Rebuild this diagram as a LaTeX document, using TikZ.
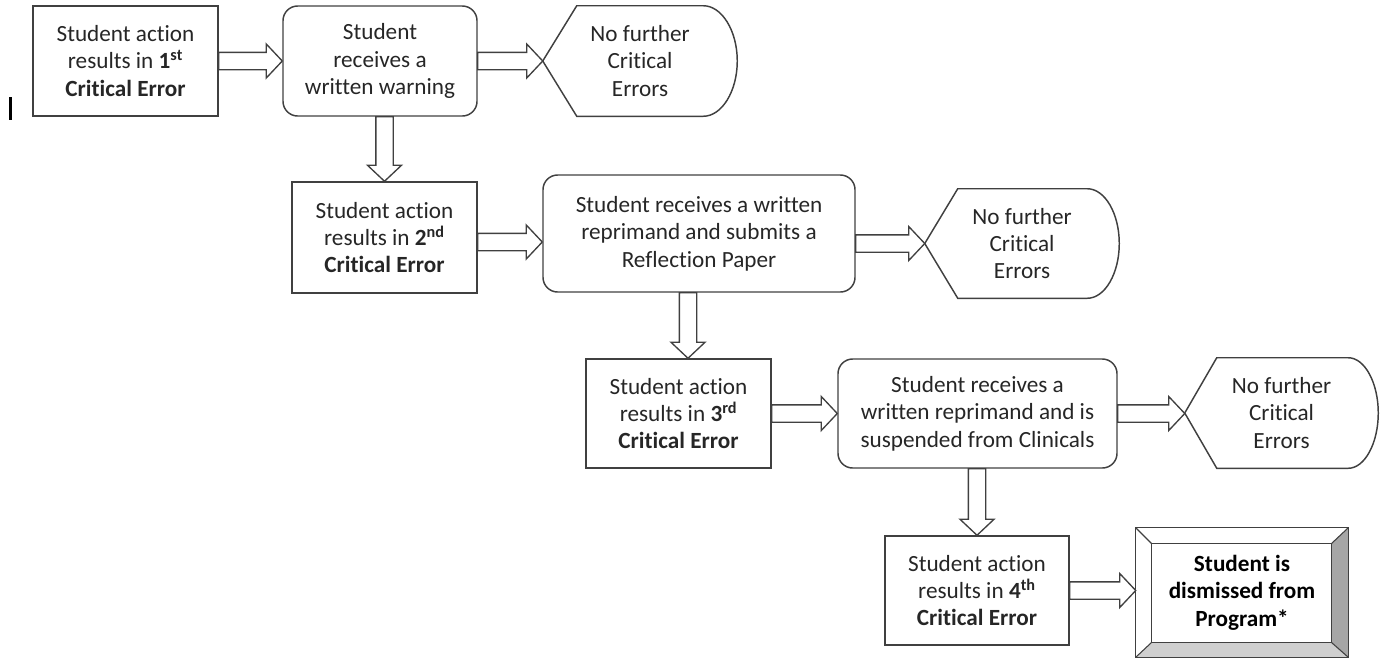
\documentclass[tikz,border=0pt]{standalone}
\usepackage{fontspec}
\setmainfont{Carlito}[Ligatures={NoCommon}]
\usetikzlibrary{calc}
\pgfdeclarelayer{bg}
\pgfsetlayers{bg,main}
\definecolor{linec}{HTML}{404040}
\definecolor{txt}{HTML}{262626}
\definecolor{bevR}{HTML}{A6A6A6}
\definecolor{bevB}{HTML}{CFCFCF}
\tikzset{
  base/.style={align=center, text=txt, inner sep=0pt,
    font=\fontsize{17.4}{20.5}\selectfont},
  rectbox/.style={base, draw=linec, line width=1.1pt, rectangle},
  roundbox/.style={base, draw=linec, line width=1.1pt, rounded corners=11pt},
  dispbox/.style={base},
  outline/.style={draw=linec, line width=1.1pt},
  blk/.style={draw=linec, line width=1pt, fill=white, line join=miter},
}
\newcommand\harr[2]{%
  \draw[blk] let \p1=(#1), \p2=(#2) in
  (\x1,\y1+6.5pt) -- (\x2-12pt,\y1+6.5pt) -- (\x2-12pt,\y1+12.75pt) -- (\x2,\y1)
  -- (\x2-12pt,\y1-12.75pt) -- (\x2-12pt,\y1-6.5pt) -- (\x1,\y1-6.5pt) -- cycle;}
\newcommand\varr[2]{%
  \draw[blk] let \p1=(#1), \p2=(#2) in
  (\x1-6.5pt,\y1) -- (\x1-6.5pt,\y2+12pt) -- (\x1-12.75pt,\y2+12pt) -- (\x1,\y2)
  -- (\x1+12.75pt,\y2+12pt) -- (\x1+6.5pt,\y2+12pt) -- (\x1+6.5pt,\y1) -- cycle;}
% display outline: #1 node name, #2 diagonal width, #3 arc width
\newcommand\dispout[3]{%
  \draw[outline] (#1.west) -- ($(#1.north west)+(#2,0)$) -- ($(#1.north east)+(-#3,0)$)
  .. controls ($(#1.north east)+(-#3*0.45,0)$) and ($(#1.east)+(0,-30)$) .. (#1.east)
  .. controls ($(#1.east)+(0,30)$) and ($(#1.south east)+(-#3*0.45,0)$) .. ($(#1.south east)+(-#3,0)$)
  -- ($(#1.south west)+(#2,0)$) -- cycle;}
\begin{document}
\begin{tikzpicture}[x=0.75pt,y=-0.75pt]
\useasboundingbox (0,0) rectangle (1384,658);

% stray cursor mark
\draw[line width=2pt, black] (10.5,97) -- (10.5,120);

% row 1
\node[rectbox, minimum width=138.75pt, minimum height=82.5pt] (A) at (125.5,61)
  {Student action\\results in \textbf{1\textsuperscript{st}}\\\textbf{Critical Error}};
\node[roundbox, minimum width=145.5pt, minimum height=82.5pt] (B) at (380,61)
  {Student\\receives a\\written warning};
\node[dispbox, minimum width=145.5pt, minimum height=82.5pt] (C) at (640,61)
  {No further\\Critical\\Errors};
\dispout{C}{34}{34}

% row 2
\node[rectbox, minimum width=138.75pt, minimum height=83.25pt] (D) at (384.5,237.5)
  {Student action\\results in \textbf{2\textsuperscript{nd}}\\\textbf{Critical Error}};
\node[roundbox, minimum width=234pt, minimum height=87.75pt] (E) at (699,233.5)
  {Student receives a written\\reprimand and submits a\\Reflection Paper};
\node[dispbox, minimum width=145.5pt, minimum height=81.75pt] (F) at (1022,243.5)
  {No further\\Critical\\Errors};
\dispout{F}{33}{32}

% row 3
\node[rectbox, minimum width=138.75pt, minimum height=81.75pt] (G) at (678.5,413.5)
  {Student action\\results in \textbf{3\textsuperscript{rd}}\\\textbf{Critical Error}};
\node[roundbox, minimum width=209.25pt, minimum height=81.75pt] (H) at (977.5,413.5)
  {Student receives a\\written reprimand and is\\suspended from Clinicals};
\node[dispbox, minimum width=144.75pt, minimum height=82.5pt] (J) at (1281.5,413)
  {No further\\Critical\\Errors};
\dispout{J}{32}{30}

% row 4
\node[rectbox, minimum width=138pt, minimum height=81.75pt] (I) at (977,590.5)
  {Student action\\results in \textbf{4\textsuperscript{th}}\\\textbf{Critical Error}};
\node[base, font=\fontsize{17.4}{20.5}\selectfont\bfseries, text=black,
  minimum width=159pt, minimum height=96.75pt] (K) at (1242,592.5)
  {Student is\\dismissed from\\Program*};
\begin{pgfonlayer}{bg}
  \fill[white] (K.north west) -- (K.north east) -- ($(K.north east)+(-17,16)$) -- ($(K.north west)+(16,16)$) -- cycle;
  \fill[white] (K.north west) -- (K.south west) -- ($(K.south west)+(16,-15)$) -- ($(K.north west)+(16,16)$) -- cycle;
  \fill[bevR] (K.north east) -- (K.south east) -- ($(K.south east)+(-17,-15)$) -- ($(K.north east)+(-17,16)$) -- cycle;
  \fill[bevB] (K.south west) -- (K.south east) -- ($(K.south east)+(-17,-15)$) -- ($(K.south west)+(16,-15)$) -- cycle;
\end{pgfonlayer}
\draw[outline] (K.north west) rectangle (K.south east);
\draw[outline] ($(K.north west)+(16,16)$) rectangle ($(K.south east)+(-17,-15)$);
\draw[outline, line width=0.8pt] (K.north west) -- ++(16,16);
\draw[outline, line width=0.8pt] (K.north east) -- ++(-17,16);
\draw[outline, line width=0.8pt] (K.south west) -- ++(16,-15);
\draw[outline, line width=0.8pt] (K.south east) -- ++(-17,-15);

% connectors
\harr{A.east}{B.west}
\harr{B.east}{C.west}
\varr{D.north |- B.south}{D.north}
\harr{$(D.east)+(0,4.5)$}{E.west}
\harr{E.east |- F.west}{F.west}
\varr{$(E.south)+(-11,0)$}{G.north}
\harr{G.east}{H.west}
\harr{H.east}{J.west}
\varr{I.north |- H.south}{I.north}
\harr{I.east}{K.west}
\end{tikzpicture}
\end{document}
